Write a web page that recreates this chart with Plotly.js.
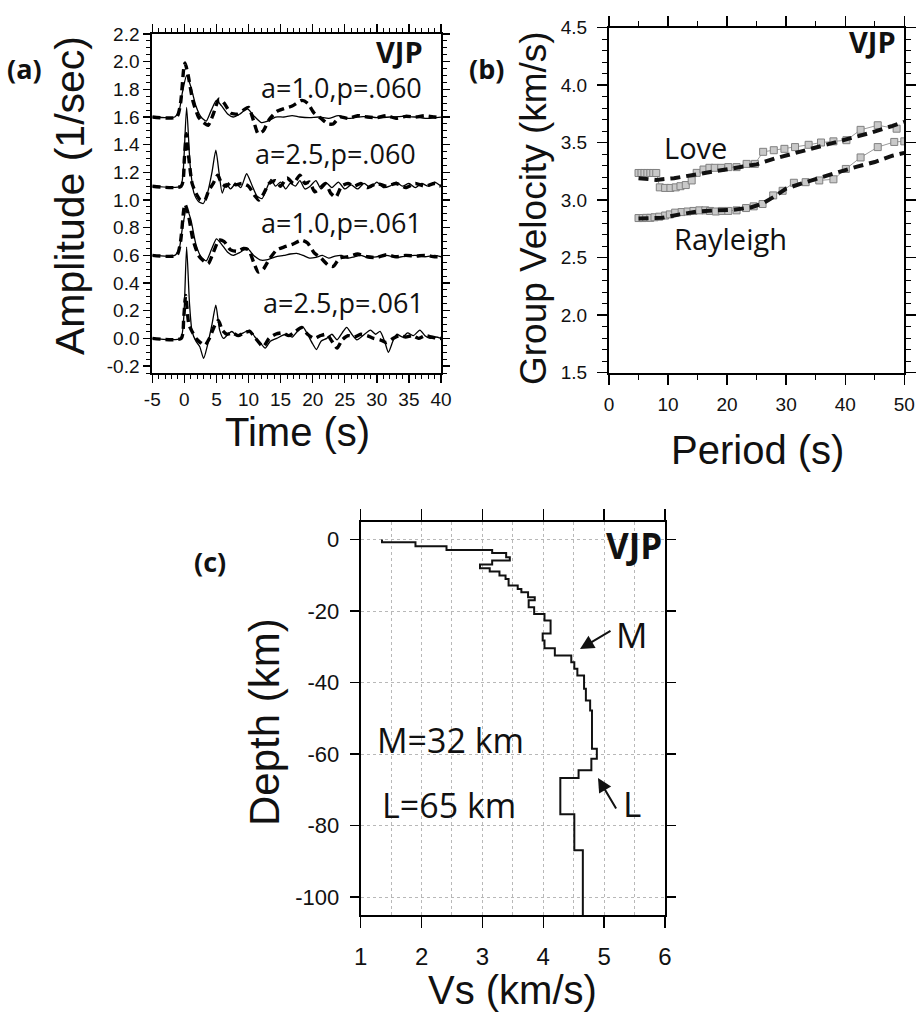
<!DOCTYPE html>
<html><head><meta charset="utf-8">
<script src="https://cdn.plot.ly/plotly-3.0.1.min.js"></script>
<style>html,body{margin:0;padding:0;background:#fff}#chart{width:921px;height:1015px}</style>
</head><body><div id="chart"></div>
<script>
// ---------- tick labels ----------
const timeTicks = [-5,0,5,10,15,20,25,30,35,40];
const timeTickText = ["-5","0","5","10","15","20","25","30","35","40"];
const ampTicks = [-0.2,0,0.2,0.4,0.6,0.8,1.0,1.2,1.4,1.6,1.8,2.0,2.2];
const ampTickText = ["-0.2","0.0","0.2","0.4","0.6","0.8","1.0","1.2","1.4","1.6","1.8","2.0","2.2"];
const depthTicks = [-100,-80,-60,-40,-20,0];
const depthTickText = ["-100","-80","-60","-40","-20","0"];

// ---------- Panel (a): receiver functions ----------
const rfLabels = ["a=1.0,p=.060", "a=2.5,p=.060", "a=1.0,p=.061", "a=2.5,p=.061"];

const a10p060_synT = [-5,-1.5,-0.8,-0.3,0.35,1.0,1.8,2.6,3.4,4.2,5.0,5.8,6.8,7.6,8.6,9.8,10.8,12.0,13.0,14.2,15.5,16.8,18,19.5,21,22.5,24,25.5,27,28.5,30,32,34,36,38,40];
const a10p060_synV = [1.6,1.6,1.65,1.78,1.90,1.82,1.68,1.60,1.57,1.65,1.72,1.68,1.62,1.60,1.62,1.66,1.61,1.56,1.57,1.60,1.60,1.61,1.60,1.595,1.60,1.59,1.61,1.59,1.60,1.605,1.595,1.60,1.605,1.60,1.59,1.60];
const a10p060_obsT = [-5,-1.2,-0.6,-0.1,0.1,0.6,1.3,2.2,3.0,3.7,4.5,5.4,6.2,7.2,8.2,9.2,10.0,10.8,11.5,12.3,13.2,14.4,15.5,16.8,18.3,19.2,20.2,21.3,22.4,23.2,24.2,25.5,27,28.5,30,31.5,33,34.5,36,37.5,39,40];
const a10p060_obsV = [1.6,1.6,1.7,1.95,1.99,1.9,1.72,1.6,1.56,1.54,1.62,1.73,1.70,1.63,1.62,1.65,1.67,1.57,1.48,1.50,1.58,1.64,1.66,1.68,1.72,1.70,1.63,1.59,1.55,1.55,1.60,1.59,1.61,1.60,1.595,1.61,1.59,1.605,1.60,1.61,1.60,1.595];

const a25p060_synT = [-5,-0.6,-0.2,0.35,0.9,1.5,2.2,2.95,3.6,4.3,4.9,5.4,5.9,6.5,7.2,8,8.8,9.7,10.6,11.3,12.1,12.8,13.5,14.2,15,15.8,16.5,17.3,18,18.8,19.6,20.5,21.3,22.2,23,24,25,26,27,28,29,30,31,32,33,34,35,36,37,38,39,40];
const a25p060_synV = [1.1,1.1,1.2,1.67,1.25,1.05,0.99,0.975,1.05,1.2,1.36,1.2,1.05,1.12,1.08,1.12,1.09,1.19,1.1,1.03,1.01,1.08,1.15,1.1,1.13,1.08,1.12,1.1,1.14,1.08,1.1,1.14,1.08,1.12,1.09,1.13,1.08,1.11,1.08,1.12,1.09,1.13,1.09,1.1,1.13,1.1,1.12,1.09,1.12,1.1,1.13,1.1];
const a25p060_obsT = [-5,-0.5,0,0.3,0.7,1.2,1.8,2.5,3.2,3.8,4.5,5.2,5.8,6.5,7.3,8,9,10,11,11.6,12.4,13.2,14.2,15,16,17,18,18.8,19.5,20.3,21,22,22.8,23.6,24.5,25.5,26.5,27.5,28.5,30,31.5,33,34.5,36,37.5,39,40];
const a25p060_obsV = [1.1,1.1,1.3,1.48,1.3,1.12,1.05,1.0,1.0,1.07,1.12,1.18,1.12,1.1,1.13,1.11,1.12,1.1,1.03,1.0,1.05,1.12,1.14,1.1,1.16,1.12,1.18,1.12,1.13,1.06,1.08,1.12,1.05,1.02,1.1,1.12,1.1,1.12,1.09,1.12,1.1,1.12,1.09,1.12,1.1,1.12,1.1];

const a10p061_synT = [-5,-1.5,-0.8,-0.3,0.35,1.0,1.8,2.6,3.4,4.2,5.0,5.8,6.8,7.6,8.6,9.8,10.8,12.0,13.0,14.2,15.5,16.5,17.5,18.5,19.5,20.5,21.5,22.5,23.5,24.5,25.5,26.5,27.5,28.5,30,31.5,33,34.5,36,37.5,39,40];
const a10p061_synV = [0.6,0.6,0.65,0.8,0.94,0.86,0.68,0.59,0.56,0.64,0.72,0.68,0.62,0.60,0.62,0.65,0.60,0.565,0.57,0.59,0.60,0.61,0.615,0.60,0.58,0.585,0.60,0.58,0.595,0.60,0.58,0.59,0.60,0.585,0.59,0.60,0.585,0.595,0.60,0.59,0.60,0.59];
const a10p061_obsT = [-5,-1.2,-0.6,-0.1,0.1,0.6,1.3,2.2,3.0,3.7,4.5,5.4,6.2,7.2,8.2,9.2,10.0,10.8,11.5,12.3,13.2,14.4,15.5,16.8,18.3,19.2,20.2,21.3,22.4,23.2,24.2,25.5,27,28.5,30,31.5,33,34.5,36,37.5,39,40];
const a10p061_obsV = [0.6,0.6,0.7,0.93,0.97,0.9,0.72,0.6,0.56,0.54,0.62,0.71,0.70,0.64,0.63,0.65,0.64,0.55,0.48,0.50,0.57,0.64,0.66,0.68,0.71,0.69,0.62,0.58,0.53,0.52,0.58,0.59,0.61,0.59,0.585,0.605,0.59,0.60,0.595,0.60,0.59,0.59];

const a25p061_synT = [-5,-0.6,-0.1,0.35,0.8,1.2,1.8,2.4,3.0,3.6,4.3,4.9,5.5,6.1,6.8,7.4,8.2,9.2,10.2,11.0,11.8,12.6,13.4,14.4,15.2,15.9,16.8,17.6,18.5,19.2,20.0,20.6,21.3,22.2,23.0,23.8,24.6,25.3,26.1,26.9,27.8,29.0,29.8,30.5,31.2,31.8,32.5,33.1,34.0,34.8,35.7,36.7,37.5,38.3,39.2,40];
const a25p061_synV = [0,0,0.15,0.66,0.25,0.05,-0.02,-0.06,-0.145,-0.05,0.1,0.24,0.06,0.0,0.03,0.05,0.02,0.04,0.06,0.01,-0.03,-0.07,-0.02,0.0,0.02,0.03,0.01,0.05,0.08,0.03,-0.04,-0.08,-0.02,0.0,0.03,-0.01,0.04,0.08,0.03,-0.01,0.02,0.06,0.03,0.05,-0.02,-0.1,-0.02,0.03,0.01,0.04,0.02,0.06,0.02,0.0,0.01,0.0];
const a25p061_obsT = [-5,-0.5,-0.1,0.2,0.7,1.2,1.8,2.5,3.2,3.9,4.6,5.3,5.9,6.6,7.5,8.4,9.3,10.2,11.1,12.3,13.2,14.2,15.3,16.3,17.3,18.3,19.2,20.2,21.2,22.2,23.0,23.8,24.6,25.5,26.5,27.5,28.5,29.5,30.5,31.5,32.5,33.5,34.5,35.5,36.5,37.5,38.5,39.5,40];
const a25p061_obsV = [0,0,0.15,0.31,0.1,0.05,0.0,-0.03,-0.05,0.0,0.08,0.13,0.06,0.03,0.04,0.02,0.04,0.05,0.0,-0.06,0.0,0.03,0.04,0.02,0.05,0.08,0.03,0.0,0.02,0.03,-0.02,-0.07,-0.01,0.02,0.01,0.03,0.02,0.0,-0.01,-0.03,0.0,0.02,0.01,0.02,0.0,0.02,0.01,0.0,0.0];

// ---------- Panel (b): dispersion ----------
const loveObsP = [5,5.5,6,6.5,7,7.5,8,8.6,9.5,10.4,11.3,12.1,13.0,14.0,14.85,16.0,17.0,17.9,19.0,20.2,21.6,23.3,24.7,26.1,27.9,29.7,31.5,33.8,35.9,38.0,40.2,42.6,45.5,48.7];
const loveObsV = [3.235,3.235,3.235,3.235,3.235,3.235,3.235,3.11,3.105,3.105,3.11,3.12,3.13,3.17,3.236,3.265,3.28,3.28,3.28,3.286,3.286,3.314,3.314,3.419,3.433,3.445,3.46,3.48,3.50,3.51,3.52,3.61,3.65,3.62];
const rayObsP = [5,5.7,6.3,7,7.7,8.5,9.5,10.3,11.2,12.3,13.3,14.3,15.3,16.3,17.1,18.1,19.1,20.2,21.6,23.2,24.5,26.0,27.8,29.4,31.3,33.3,35.6,38.0,40.1,42.6,45.5,48.3,50];
const rayObsV = [2.843,2.843,2.845,2.845,2.85,2.855,2.865,2.875,2.89,2.895,2.90,2.905,2.91,2.91,2.905,2.90,2.905,2.905,2.91,2.93,2.945,2.965,3.04,3.08,3.15,3.155,3.17,3.18,3.27,3.37,3.46,3.505,3.51];
const loveModP = [5,8,11,14,18,22,25,28,32,36,40,44,48,50];
const loveModV = [3.19,3.175,3.19,3.215,3.255,3.285,3.31,3.36,3.415,3.47,3.525,3.58,3.645,3.68];
const rayModP = [5,9,12,15,18,21,24,26,28,30,33,36,39,42,45,48,50];
const rayModV = [2.84,2.845,2.875,2.90,2.91,2.915,2.935,2.97,3.03,3.10,3.15,3.20,3.245,3.29,3.33,3.385,3.41];

// ---------- Panel (c): Vs profile (layer velocity and layer bottom depth) ----------
const layerVs = [1.35,1.90,2.41,3.16,3.39,3.45,3.16,2.96,3.12,3.28,3.38,3.43,3.58,3.64,3.75,3.86,3.76,3.85,4.02,4.12,3.99,4.02,4.19,4.46,4.51,4.56,4.67,4.70,4.77,4.80,4.88,4.79,4.58,4.28,4.51,4.65];
const layerBottom = [-0.74,-1.86,-2.89,-3.72,-4.93,-5.87,-6.98,-8.0,-8.94,-10.06,-11.0,-12.85,-13.8,-14.7,-16.1,-17.0,-18.9,-20.8,-22.6,-26.3,-28.2,-30.4,-32.4,-34.3,-36.1,-38.0,-41.7,-45.0,-47.8,-58.5,-61.3,-64.5,-66.7,-76.8,-86.9,-105];

// ---------- build ----------
const W = 921, H = 1015;
const PX = x => x / W, PY = y => 1 - y / H;
const TICKFONT = 'Liberation Sans, Arial, Helvetica, sans-serif';
const TXTFONT = 'Open Sans, Noto Sans, sans-serif';

const solid = {color:'#000', width:1.3, shape:'spline', smoothing:0.6};
const dashed = {color:'#000', width:3.4, dash:'8px,5px', shape:'spline', smoothing:0.6};

const rfSets = [
  [a10p060_obsT, a10p060_obsV, a10p060_synT, a10p060_synV],
  [a25p060_obsT, a25p060_obsV, a25p060_synT, a25p060_synV],
  [a10p061_obsT, a10p061_obsV, a10p061_synT, a10p061_synV],
  [a25p061_obsT, a25p061_obsV, a25p061_synT, a25p061_synV]
];
const data = [];
rfSets.forEach((s, i) => {
  data.push({x:s[0], y:s[1], type:'scatter', mode:'lines', line:dashed, xaxis:'x', yaxis:'y', name:rfLabels[i]+' obs', showlegend:false, hoverinfo:'skip'});
  data.push({x:s[2], y:s[3], type:'scatter', mode:'lines', line:solid, xaxis:'x', yaxis:'y', name:rfLabels[i]+' syn', showlegend:false, hoverinfo:'skip'});
});

const obsMarker = {symbol:'square', size:7, color:'#c9c9c9', line:{color:'#808080', width:1}};
data.push({x:loveObsP, y:loveObsV, type:'scatter', mode:'lines+markers', line:{color:'#9a9a9a', width:1}, marker:obsMarker, xaxis:'x2', yaxis:'y2', name:'Love obs', showlegend:false});
data.push({x:rayObsP, y:rayObsV, type:'scatter', mode:'lines+markers', line:{color:'#9a9a9a', width:1}, marker:obsMarker, xaxis:'x2', yaxis:'y2', name:'Rayleigh obs', showlegend:false});
data.push({x:loveModP, y:loveModV, type:'scatter', mode:'lines', line:{color:'#111', width:4, dash:'10px,6px'}, xaxis:'x2', yaxis:'y2', name:'Love model', showlegend:false});
data.push({x:rayModP, y:rayModV, type:'scatter', mode:'lines', line:{color:'#111', width:4, dash:'10px,6px'}, xaxis:'x2', yaxis:'y2', name:'Rayleigh model', showlegend:false});

// step profile from layer table
const profX = [], profY = [];
let layerTop = 0;
layerVs.forEach((v, i) => { profX.push(v, v); profY.push(layerTop, layerBottom[i]); layerTop = layerBottom[i]; });
data.push({x:profX, y:profY, type:'scatter', mode:'lines', line:{color:'#111', width:2}, xaxis:'x3', yaxis:'y3', name:'Vs', showlegend:false});

function ax(o) {
  return Object.assign({showline:true, linecolor:'#000', linewidth:2, mirror:'allticks', ticks:'outside',
    tickcolor:'#000', tickwidth:1.4, showgrid:false, zeroline:false, fixedrange:true, automargin:false,
    tickfont:{family:TICKFONT, size:19, color:'#111'}}, o);
}
const gridc = '#b8b8b8';

const annots = [];
function ann(text, x, y, o) {
  annots.push(Object.assign({text:text, xref:'paper', yref:'paper', x:PX(x), y:PY(y), showarrow:false,
    xanchor:'center', yanchor:'middle', font:{family:TXTFONT, size:24, color:'#111'}}, o || {}));
}
// panel labels
ann('<b>(a)</b>', 24, 68, {font:{family:TXTFONT, size:27, color:'#111'}});
ann('<b>(b)</b>', 486, 68, {font:{family:TXTFONT, size:27, color:'#111'}});
ann('<b>(c)</b>', 210, 561, {font:{family:TXTFONT, size:27, color:'#111'}});
// station names
ann('<b>VJP</b>', 399, 52, {font:{family:TXTFONT, size:29, color:'#111'}});
ann('<b>VJP</b>', 872, 42, {font:{family:TXTFONT, size:29, color:'#111'}});
ann('<b>VJP</b>', 634, 545, {font:{family:TXTFONT, size:35, color:'#111'}});
// receiver function parameters
[[88, 424], [153, 418], [223, 424], [302, 426]].forEach((p, i) => ann(rfLabels[i], p[1], p[0], {xanchor:'right', font:{family:TXTFONT, size:27, color:'#111'}}));
// dispersion labels
ann('Love', 695, 147, {font:{family:TXTFONT, size:29, color:'#111'}});
ann('Rayleigh', 730, 238, {font:{family:TXTFONT, size:29, color:'#111'}});
// profile labels
ann('M', 631, 634, {font:{family:TXTFONT, size:35, color:'#111'}});
ann('L', 632, 803, {font:{family:TXTFONT, size:35, color:'#111'}});
ann('M=32 km', 375, 740, {xanchor:'left', font:{family:TXTFONT, size:34, color:'#111'}});
ann('L=65 km', 380, 805, {xanchor:'left', font:{family:TXTFONT, size:34, color:'#111'}});
ann('', 580, 649, {showarrow:true, ax:32, ay:-19, arrowhead:2, arrowsize:1.4, arrowwidth:2, arrowcolor:'#111', standoff:0, startstandoff:0});
ann('', 598, 778, {showarrow:true, ax:19, ay:32, arrowhead:2, arrowsize:1.4, arrowwidth:2, arrowcolor:'#111', standoff:0, startstandoff:0});
// axis titles
const tfont = s => ({family:TICKFONT, size:s, color:'#111'});
ann('Amplitude (1/sec)', 70, 196, {textangle:-90, font:tfont(41)});
ann('Time (s)', 297, 432, {font:tfont(40)});
ann('Group Velocity (km/s)', 533, 208, {textangle:-90, font:tfont(37)});
ann('Period (s)', 757, 450, {font:tfont(40)});
ann('Depth (km)', 264, 722, {textangle:-90, font:tfont(42)});
ann('Vs (km/s)', 512, 1014, {yanchor:'bottom', font:tfont(40)});

const layout = {
  width:W, height:H, margin:{l:0, r:0, t:0, b:0}, paper_bgcolor:'#fff', plot_bgcolor:'#fff', showlegend:false,
  xaxis: ax({domain:[PX(152.3), PX(441)], range:[-5,40], tickmode:'array', tickvals:timeTicks, ticktext:timeTickText, ticklen:8, anchor:'y',
    minor:{tickmode:'linear', tick0:0, dtick:1, ticklen:4, ticks:'outside', tickcolor:'#000', tickwidth:1}}),
  yaxis: ax({domain:[PY(373), PY(34)], range:[-0.25,2.2], tickmode:'array', tickvals:ampTicks, ticktext:ampTickText, ticklen:7, anchor:'x',
    minor:{tickmode:'linear', tick0:0, dtick:0.05, ticklen:4, ticks:'outside', tickcolor:'#000', tickwidth:1}}),
  xaxis2: ax({domain:[PX(609), PX(904.3)], range:[0,50], dtick:10, ticklen:10, anchor:'y2', ticklabelstandoff:4,
    minor:{dtick:5, ticklen:5, ticks:'outside', tickcolor:'#000', tickwidth:1}}),
  yaxis2: ax({domain:[PY(372.5), PY(27.5)], range:[1.5,4.5], dtick:0.5, tick0:0, tickformat:'.1f', ticklen:10, anchor:'x2', ticklabelstandoff:6,
    minor:{dtick:0.1, ticklen:5, ticks:'outside', tickcolor:'#000', tickwidth:1}}),
  xaxis3: ax({domain:[PX(360.7), PX(665)], range:[1,6], dtick:1, ticklen:11, anchor:'y3', ticklabelstandoff:8,
    tickfont:{family:TICKFONT, size:24, color:'#111'},
    showgrid:true, gridcolor:gridc, griddash:'dot', gridwidth:1,
    minor:{dtick:0.5, showgrid:true, gridcolor:gridc, griddash:'dot', gridwidth:1, ticks:''}}),
  yaxis3: ax({domain:[PY(915), PY(521.7)], range:[-105,5], tickmode:'array', tickvals:depthTicks, ticktext:depthTickText, ticklen:9, anchor:'x3', ticklabelstandoff:6,
    tickfont:{family:TICKFONT, size:22, color:'#111'},
    showgrid:true, gridcolor:gridc, griddash:'dot', gridwidth:1}),
  annotations: annots
};

Plotly.newPlot('chart', data, layout, {displayModeBar:false, staticPlot:true});
</script></body></html>
